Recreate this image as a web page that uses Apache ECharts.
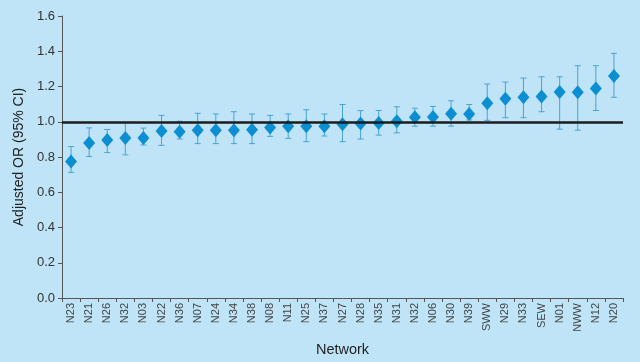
<!DOCTYPE html>
<html>
<head>
<meta charset="utf-8">
<script src="https://cdn.jsdelivr.net/npm/echarts@6/dist/echarts.min.js"></script>
<style>html,body{margin:0;padding:0;background:#bfe4f8;}#c{width:640px;height:362px;}</style>
</head>
<body>
<div id="c"></div>
<script>
const categories = ['N23','N21','N26','N32','N03','N22','N36','N07','N24','N34','N38','N08','N11','N25','N37','N27','N28','N35','N31','N32','N06','N30','N39','SWW','N29','N33','SEW','N01','NWW','N12','N20'];
const orValues = [0.775,0.880,0.896,0.908,0.908,0.947,0.943,0.952,0.952,0.952,0.954,0.967,0.975,0.975,0.975,0.986,0.990,0.993,1.003,1.025,1.027,1.046,1.044,1.105,1.130,1.139,1.143,1.169,1.167,1.189,1.259];
const ciLower = [0.713,0.803,0.825,0.812,0.868,0.866,0.902,0.876,0.876,0.876,0.876,0.917,0.906,0.887,0.919,0.887,0.902,0.924,0.937,0.975,0.975,0.975,1.010,1.008,1.023,1.023,1.057,0.958,0.952,1.064,1.139];
const ciUpper = [0.859,0.965,0.956,0.995,0.964,1.036,1.003,1.048,1.044,1.057,1.044,1.036,1.044,1.068,1.044,1.098,1.063,1.064,1.085,1.077,1.087,1.119,1.098,1.214,1.225,1.248,1.255,1.255,1.318,1.318,1.388];
const yTicks = [0, 0.2, 0.4, 0.6, 0.8, 1.0, 1.2, 1.4, 1.6];

const chart = echarts.init(document.getElementById('c'), null, {renderer: 'canvas'});
const errData = categories.map((c, i) => [i, ciLower[i], ciUpper[i]]);
const barColor = '#4aa2d4';
chart.setOption({
  backgroundColor: '#bfe4f8',
  animation: false,
  grid: {left: 62, right: 17, top: 16, bottom: 61},
  xAxis: {
    type: 'category',
    data: categories,
    name: 'Network',
    nameLocation: 'middle',
    nameGap: 44,
    nameTextStyle: {fontFamily: 'Liberation Sans', fontSize: 14.5, color: '#222'},
    axisLine: {lineStyle: {color: '#555', width: 1}},
    axisTick: {show: true, alignWithLabel: false, length: 4, lineStyle: {color: '#555'}},
    axisLabel: {rotate: 90, interval: 0, fontFamily: 'Liberation Sans', fontSize: 11, color: '#444', margin: 5},
    splitLine: {show: false}
  },
  yAxis: {
    type: 'value',
    min: 0, max: 1.6, interval: 0.2,
    name: 'Adjusted OR (95% CI)',
    nameLocation: 'middle',
    nameGap: 35,
    nameRotate: 90,
    nameTextStyle: {fontFamily: 'Liberation Sans', fontSize: 14, color: '#222'},
    axisLine: {show: true, lineStyle: {color: '#555', width: 1}},
    axisTick: {show: true, length: 4, lineStyle: {color: '#555'}},
    axisLabel: {fontFamily: 'Liberation Sans', fontSize: 13, color: '#333', margin: 7,
      formatter: v => (yTicks.indexOf(Math.round(v*10)/10) >= 0 ? v.toFixed(1) : '')},
    splitLine: {show: false}
  },
  series: [
    {
      type: 'custom',
      data: errData,
      z: 2,
      renderItem: function (params, api) {
        const x = api.value(0);
        const lo = api.coord([x, api.value(1)]);
        const hi = api.coord([x, api.value(2)]);
        const hw = 3;
        const style = {stroke: barColor, lineWidth: 1};
        return {
          type: 'group',
          children: [
            {type: 'line', shape: {x1: lo[0], y1: lo[1], x2: hi[0], y2: hi[1]}, style: style},
            {type: 'line', shape: {x1: lo[0]-hw, y1: lo[1], x2: lo[0]+hw, y2: lo[1]}, style: style},
            {type: 'line', shape: {x1: hi[0]-hw, y1: hi[1], x2: hi[0]+hw, y2: hi[1]}, style: style}
          ]
        };
      },
      encode: {x: 0, y: [1, 2]}
    },
    {
      type: 'scatter',
      data: orValues.map((v, i) => [i, v]),
      symbol: 'diamond',
      symbolSize: [12, 14],
      itemStyle: {color: '#0b8fd2', opacity: 1},
      z: 3,
      markLine: {
        silent: true,
        symbol: 'none',
        label: {show: false},
        lineStyle: {color: '#1c1c1c', width: 2.5, type: 'solid'},
        data: [{yAxis: 1.0}]
      }
    }
  ]
});
</script>
</body>
</html>
